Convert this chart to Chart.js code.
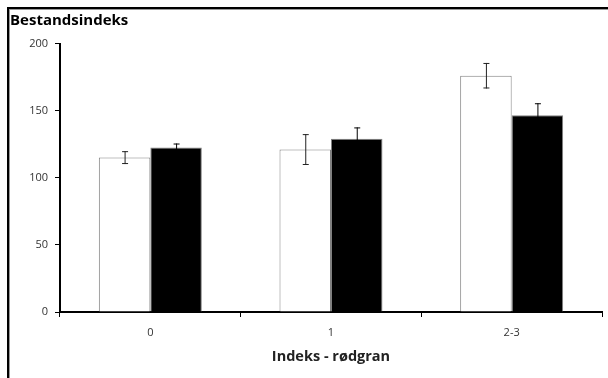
<!DOCTYPE html>
<html>
<head>
<meta charset="utf-8">
<script src="https://cdn.jsdelivr.net/npm/chart.js@4/dist/chart.umd.min.js"></script>
<style>
  html, body { margin: 0; padding: 0; background: #fff; overflow: hidden; }
  #wrap { position: relative; width: 608px; height: 378px; }
  #frame {
    position: absolute; left: 7px; top: 7px; width: 700px; height: 500px;
    border-left: 2px solid #000; border-top: 2px solid #000;
    box-shadow: inset 1px 1px 0 #999;
  }
  #chart { position: absolute; left: 0; top: 0; }
</style>
</head>
<body>
<div id="wrap">
  <div id="frame"></div>
  <canvas id="chart" width="608" height="378"></canvas>
</div>
<script>
// data
const categories = ['0', '1', '2-3'];
const whiteValues = [115, 121, 176];
const whiteErrors = [4.8, 11.5, 9.5];
const blackValues = [122.5, 129, 146.5];
const blackErrors = [3, 8.5, 9];
const yTicks = [0, 50, 100, 150, 200];

const fontFamily = "'Open Sans', Lato, sans-serif";

// error bars drawn from the bar elements + y scale
const errorBars = {
  id: 'errorBars',
  afterDatasetsDraw(chart) {
    const ctx = chart.ctx;
    const yScale = chart.scales.y;
    chart.data.datasets.forEach((ds, i) => {
      const meta = chart.getDatasetMeta(i);
      meta.data.forEach((bar, j) => {
        const v = ds.data[j];
        const e = ds.errors[j];
        const top = yScale.getPixelForValue(v + e);
        const bottom = yScale.getPixelForValue(v - e);
        ctx.save();
        ctx.strokeStyle = ds.errorColor;
        ctx.lineWidth = 1;
        ctx.beginPath();
        ctx.moveTo(bar.x + 0.5, top);
        ctx.lineTo(bar.x + 0.5, bottom);
        ctx.moveTo(bar.x - 2.5, top + 0.5);
        ctx.lineTo(bar.x + 3.5, top + 0.5);
        ctx.moveTo(bar.x - 2.5, bottom - 0.5);
        ctx.lineTo(bar.x + 3.5, bottom - 0.5);
        ctx.stroke();
        ctx.restore();
      });
    });
  }
};

new Chart(document.getElementById('chart'), {
  type: 'bar',
  data: {
    labels: categories,
    datasets: [
      {
        label: 'Serie 1',
        data: whiteValues,
        errors: whiteErrors,
        errorColor: '#222',
        backgroundColor: '#fff',
        borderColor: '#808080',
        borderWidth: 1,
        categoryPercentage: 0.57,
        barPercentage: 1
      },
      {
        label: 'Serie 2',
        data: blackValues,
        errors: blackErrors,
        errorColor: '#000',
        backgroundColor: '#000',
        borderColor: '#808080',
        borderWidth: 1,
        categoryPercentage: 0.57,
        barPercentage: 1
      }
    ]
  },
  options: {
    responsive: false,
    animation: false,
    devicePixelRatio: 1,
    layout: { padding: { left: 10, top: 12, right: 6, bottom: 0 } },
    plugins: {
      legend: { display: false },
      tooltip: { enabled: false },
      title: {
        display: true,
        text: 'Bestandsindeks',
        align: 'start',
        color: '#000',
        font: { family: fontFamily, size: 15, weight: 'bold' },
        padding: { top: 0, bottom: 13.5 }
      }
    },
    scales: {
      x: {
        afterFit(scale) { scale.height = 66; },
        grid: {
          display: true,
          drawOnChartArea: false,
          drawTicks: true,
          tickLength: 5,
          color: '#000',
          lineWidth: 1
        },
        border: { color: '#000', width: 2 },
        ticks: {
          color: '#333',
          padding: 9,
          font: { family: fontFamily, size: 11 }
        },
        title: {
          display: true,
          text: 'Indeks - rødgran',
          color: '#222',
          font: { family: fontFamily, size: 14.5, weight: 'bold' },
          padding: { top: 0, bottom: 12 }
        }
      },
      y: {
        min: 0,
        max: 200,
        afterFit(scale) { scale.width = 50; },
        afterBuildTicks(scale) { scale.ticks = yTicks.map(v => ({ value: v })); },
        grid: {
          display: true,
          drawOnChartArea: false,
          drawTicks: true,
          tickLength: 5,
          color: '#000',
          lineWidth: 1
        },
        border: { color: '#000', width: 2 },
        ticks: {
          color: '#333',
          padding: 7,
          font: { family: fontFamily, size: 11 }
        }
      }
    }
  },
  plugins: [errorBars]
});
</script>
</body>
</html>
